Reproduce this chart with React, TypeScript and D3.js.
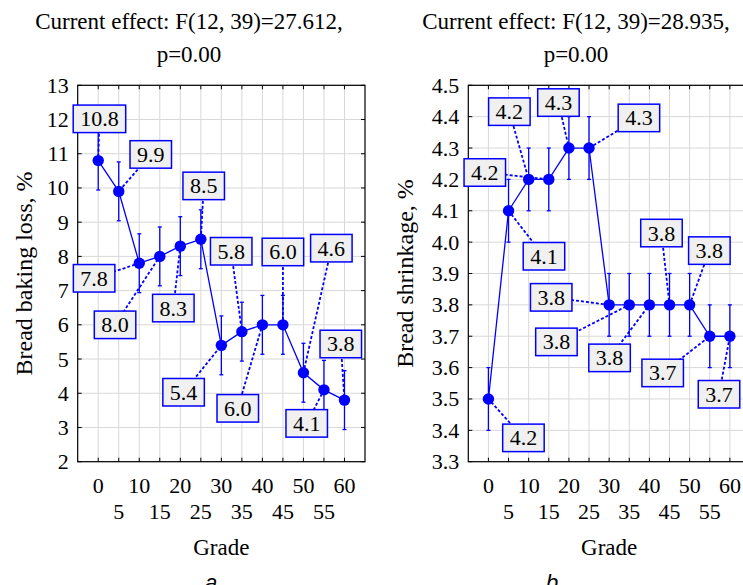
import React from 'react';
import * as d3 from 'd3';

const grades = [0, 5, 10, 15, 20, 25, 30, 35, 40, 45, 50, 55, 60];
const gradeTicksTop = [0, 10, 20, 30, 40, 50, 60];
const gradeTicksBottom = [5, 15, 25, 35, 45, 55];

// Panel a: bread baking loss
const lossMean = [10.8, 9.9, 7.8, 8.0, 8.3, 8.5, 5.4, 5.8, 6.0, 6.0, 4.6, 4.1, 3.8];
const lossErr = [0.86, 0.86, 0.86, 0.86, 0.86, 0.86, 0.86, 0.86, 0.86, 0.86, 0.86, 0.86, 0.86];
const lossLabels = ['10.8', '9.9', '7.8', '8.0', '8.3', '8.5', '5.4', '5.8', '6.0', '6.0', '4.6', '4.1', '3.8'];
const lossLabelGrade = [0.3, 12.8, -1.0, 4.1, 18.3, 25.7, 20.8, 32.4, 34.0, 45.0, 56.8, 50.8, 59.1];
const lossLabelValue = [12.02, 10.98, 7.36, 6.0, 6.49, 10.06, 4.03, 8.15, 3.56, 8.13, 8.24, 3.12, 5.44];
const lossTicks = [2, 3, 4, 5, 6, 7, 8, 9, 10, 11, 12, 13];

// Panel b: bread shrinkage
const shrinkMean = [3.5, 4.1, 4.2, 4.2, 4.3, 4.3, 3.8, 3.8, 3.8, 3.8, 3.8, 3.7, 3.7];
const shrinkErr = [0.1, 0.1, 0.1, 0.1, 0.1, 0.1, 0.1, 0.1, 0.1, 0.1, 0.1, 0.1, 0.1];
const shrinkLabels = ['4.2', '4.1', '4.2', '4.2', '4.3', '4.3', '3.8', '3.8', '3.8', '3.8', '3.8', '3.7', '3.7'];
const shrinkLabelGrade = [8.7, 13.8, 5.2, -0.9, 17.4, 37.4, 15.6, 16.9, 30.1, 43.0, 54.9, 43.3, 57.3];
const shrinkLabelValue = [3.376, 3.955, 4.416, 4.222, 4.445, 4.396, 3.824, 3.682, 3.631, 4.029, 3.973, 3.583, 3.515];
const shrinkTicks = [3.3, 3.4, 3.5, 3.6, 3.7, 3.8, 3.9, 4.0, 4.1, 4.2, 4.3, 4.4, 4.5];

const FONT = '"Liberation Serif", "Times New Roman", serif';
const BLUE = '#0000ff';
const FS = 22;
const FS_TITLE = 23;
const FS_AXIS = 24;

function textWidth(s: string) {
  let w = 0;
  for (const c of s) w += c === '.' ? 0.25 : 0.5;
  return w * FS;
}

type PanelProps = {
  x0: number; x1: number; y0: number; y1: number;
  yDomain: [number, number]; yTicks: number[]; fmt: (v: number) => string;
  means: number[]; errs: number[]; labels: string[]; lgx: number[]; lgy: number[];
  title1: string; title2: string; titleX: number;
  yTitle: string; yTitleX: number; letter: string; letterX: number;
};

function Panel(p: PanelProps) {
  const x = d3.scaleLinear().domain([-5, 65]).range([p.x0, p.x1]);
  const y = d3.scaleLinear().domain(p.yDomain).range([p.y1, p.y0]);
  const line = d3.line<number>().x((_, i) => x(grades[i])).y((d) => y(d));
  const tl = 4;
  const midY = (p.y0 + p.y1) / 2;
  return (
    <g>
      {/* titles */}
      <text x={p.titleX} y={28.5} textAnchor="middle" fontFamily={FONT} fontSize={FS_TITLE}>{p.title1}</text>
      <text x={p.titleX} y={61.5} textAnchor="middle" fontFamily={FONT} fontSize={FS_TITLE}>{p.title2}</text>
      {/* grid */}
      {grades.map((g) => (
        <line key={'gv' + g} x1={x(g)} x2={x(g)} y1={p.y0} y2={p.y1} stroke="#d8d8d8" strokeWidth={1} />
      ))}
      {p.yTicks.map((t) => (
        <line key={'gh' + t} x1={p.x0} x2={p.x1} y1={y(t)} y2={y(t)} stroke="#d8d8d8" strokeWidth={1} />
      ))}
      {/* frame */}
      <rect x={p.x0} y={p.y0} width={p.x1 - p.x0} height={p.y1 - p.y0} fill="none" stroke="#000" strokeWidth={1.2} />
      {/* ticks */}
      {grades.map((g) => (
        <g key={'tx' + g}>
          <line x1={x(g)} x2={x(g)} y1={p.y1} y2={p.y1 - tl} stroke="#000" />
          <line x1={x(g)} x2={x(g)} y1={p.y0} y2={p.y0 + tl} stroke="#000" />
        </g>
      ))}
      {p.yTicks.map((t) => (
        <g key={'ty' + t}>
          <line x1={p.x0} x2={p.x0 + tl} y1={y(t)} y2={y(t)} stroke="#000" />
          <line x1={p.x1} x2={p.x1 - tl} y1={y(t)} y2={y(t)} stroke="#000" />
          <text x={p.x0 - 9} y={y(t) + 7.5} textAnchor="end" fontFamily={FONT} fontSize={FS}>{p.fmt(t)}</text>
        </g>
      ))}
      {gradeTicksTop.map((g) => (
        <text key={'lt' + g} x={x(g)} y={p.y1 + 31} textAnchor="middle" fontFamily={FONT} fontSize={FS}>{g}</text>
      ))}
      {gradeTicksBottom.map((g) => (
        <text key={'lb' + g} x={x(g)} y={p.y1 + 57.5} textAnchor="middle" fontFamily={FONT} fontSize={FS}>{g}</text>
      ))}
      <text x={(x(0) + x(60)) / 2} y={555} textAnchor="middle" fontFamily={FONT} fontSize={FS_TITLE}>Grade</text>
      <text x={p.letterX} y={590} textAnchor="middle" fontFamily='"Liberation Sans", Arial, sans-serif' fontStyle="italic" fontSize={FS}>{p.letter}</text>
      <text transform={`translate(${p.yTitleX},${midY}) rotate(-90)`} textAnchor="middle" fontFamily={FONT} fontSize={FS_AXIS}>{p.yTitle}</text>
      {/* data */}
      <path d={line(p.means) || ''} fill="none" stroke={BLUE} strokeWidth={1.3} />
      {p.means.map((m, i) => (
        <g key={'e' + i}>
          <line x1={x(grades[i])} x2={x(grades[i])} y1={y(m - p.errs[i])} y2={y(m + p.errs[i])} stroke={BLUE} strokeWidth={1.3} />
          <line x1={x(grades[i]) - 2} x2={x(grades[i]) + 2} y1={y(m - p.errs[i])} y2={y(m - p.errs[i])} stroke={BLUE} strokeWidth={1.3} />
          <line x1={x(grades[i]) - 2} x2={x(grades[i]) + 2} y1={y(m + p.errs[i])} y2={y(m + p.errs[i])} stroke={BLUE} strokeWidth={1.3} />
        </g>
      ))}
      {p.means.map((m, i) => (
        <line key={'ld' + i} x1={x(p.lgx[i])} y1={y(p.lgy[i])} x2={x(grades[i])} y2={y(m)} stroke={BLUE} strokeWidth={1.8} strokeDasharray="3,2" />
      ))}
      {p.means.map((m, i) => (
        <circle key={'c' + i} cx={x(grades[i])} cy={y(m)} r={5.7} fill={BLUE} />
      ))}
      {p.labels.map((l, i) => {
        const w = textWidth(l) + 14;
        const h = 27.5;
        const cx = x(p.lgx[i]);
        const cy = y(p.lgy[i]);
        return (
          <g key={'lab' + i}>
            <rect x={cx - w / 2} y={cy - h / 2} width={w} height={h} fill="#f0f0f0" stroke={BLUE} strokeWidth={1.5} />
            <text x={cx} y={cy + 7.5} textAnchor="middle" fontFamily={FONT} fontSize={FS}>{l}</text>
          </g>
        );
      })}
    </g>
  );
}

export default function App() {
  return (
    <svg width={743} height={585} style={{ position: 'absolute', left: 0, top: 0, background: '#fff' }}>
      <rect x={0} y={0} width={743} height={585} fill="#fff" />
      <Panel
        x0={77.7} x1={365} y0={85.3} y1={461.7}
        yDomain={[2, 13]} yTicks={lossTicks} fmt={(v) => String(v)}
        means={lossMean} errs={lossErr} labels={lossLabels} lgx={lossLabelGrade} lgy={lossLabelValue}
        title1="Current effect: F(12, 39)=27.612," title2="p=0.00" titleX={189}
        yTitle="Bread baking loss, %" yTitleX={32} letter="a" letterX={211}
      />
      <Panel
        x0={468.3} x1={750} y0={85.3} y1={461.7}
        yDomain={[3.3, 4.5]} yTicks={shrinkTicks} fmt={(v) => v.toFixed(1)}
        means={shrinkMean} errs={shrinkErr} labels={shrinkLabels} lgx={shrinkLabelGrade} lgy={shrinkLabelValue}
        title1="Current effect: F(12, 39)=28.935," title2="p=0.00" titleX={576}
        yTitle="Bread shrinkage, %" yTitleX={413} letter="b" letterX={552}
      />
    </svg>
  );
}
